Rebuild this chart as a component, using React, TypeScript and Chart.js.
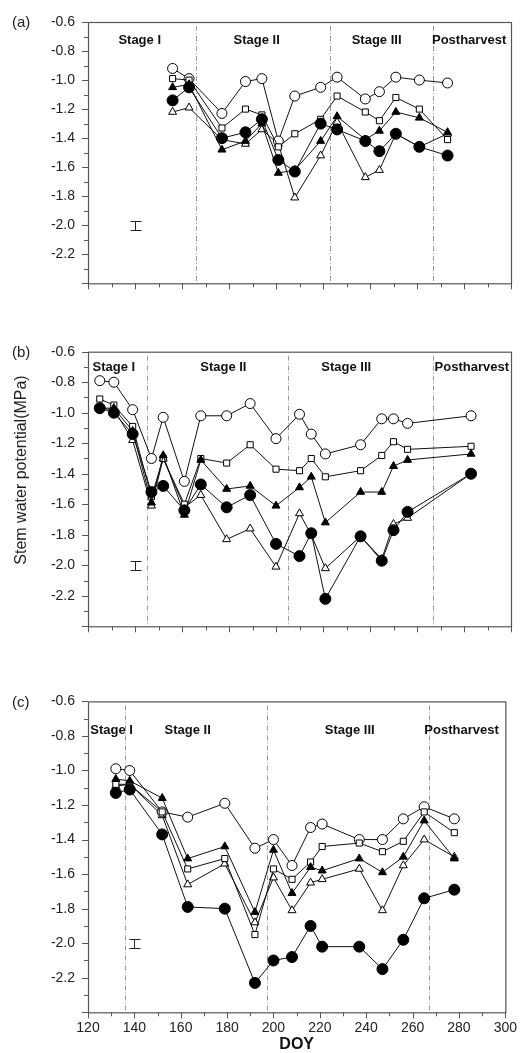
import React, { useEffect, useRef } from "react";
import { Chart, registerables } from "chart.js";

Chart.register(...registerables);

// ---------- Data ----------
// Panel (a)
const DOY_A = [156, 163, 177, 187, 194, 201, 208, 219, 226, 238, 244, 251, 261, 273];
const OPEN_CIRCLE_A = [-0.92, -0.99, -1.23, -1.01, -0.99, -1.42, -1.11, -1.05, -0.98, -1.13, -1.08, -0.98, -1.0, -1.02];
const OPEN_SQUARE_A = [-0.99, -1.0, -1.33, -1.2, -1.24, -1.46, -1.37, -1.27, -1.11, -1.22, -1.28, -1.12, -1.2, -1.41];
const FILLED_TRI_A = [-1.05, -1.03, -1.48, -1.42, -1.3, -1.64, -1.62, -1.42, -1.25, -1.41, -1.35, -1.22, -1.26, -1.36];
const OPEN_TRI_A = [-1.22, -1.19, -1.41, -1.44, -1.34, -1.44, -1.81, -1.52, -1.29, -1.67, -1.62, -1.37, -1.46, -1.37];
const FILLED_CIRCLE_A = [-1.14, -1.05, -1.4, -1.36, -1.27, -1.55, -1.63, -1.3, -1.34, -1.42, -1.49, -1.37, -1.46, -1.52];

// Panel (b)
const DOY_B = [125, 131, 139, 147, 152, 161, 168, 179, 189, 200, 210, 215, 221, 236, 245, 250, 256, 283];
const OPEN_CIRCLE_B = [-0.79, -0.8, -0.98, -1.3, -1.03, -1.45, -1.02, -1.02, -0.94, -1.17, -1.01, -1.14, -1.27, -1.21, -1.04, -1.04, -1.07, -1.02];
const OPEN_SQUARE_B = [-0.91, -0.95, -1.09, -1.55, -1.3, -1.6, -1.3, -1.33, -1.21, -1.37, -1.38, -1.3, -1.42, -1.38, -1.28, -1.19, -1.24, -1.22];
const FILLED_TRI_B = [-0.97, -0.97, -1.12, -1.59, -1.28, -1.67, -1.31, -1.5, -1.48, -1.61, -1.49, -1.42, -1.72, -1.52, -1.52, -1.35, -1.31, -1.27];
const OPEN_TRI_B = [-0.97, -0.98, -1.18, -1.61, -1.3, -1.62, -1.54, -1.83, -1.76, -2.01, -1.66, -1.8, -2.02, -1.81, -1.96, -1.73, -1.69, -1.4];
const FILLED_CIRCLE_B = [-0.97, -1.0, -1.14, -1.52, -1.48, -1.64, -1.47, -1.62, -1.54, -1.86, -1.94, -1.79, -2.22, -1.81, -1.97, -1.77, -1.65, -1.4];

// Panel (c)
const DOY_C = [132, 138, 152, 163, 179, 192, 200, 208, 216, 221, 237, 247, 256, 265, 278];
const OPEN_CIRCLE_C = [-0.99, -1.0, -1.24, -1.27, -1.19, -1.45, -1.4, -1.55, -1.33, -1.31, -1.4, -1.4, -1.28, -1.21, -1.28];
const OPEN_SQUARE_C = [-1.08, -1.08, -1.24, -1.57, -1.51, -1.95, -1.57, -1.63, -1.53, -1.44, -1.42, -1.47, -1.41, -1.24, -1.36];
const FILLED_TRI_C = [-1.05, -1.06, -1.16, -1.51, -1.44, -1.82, -1.46, -1.71, -1.56, -1.58, -1.51, -1.59, -1.5, -1.29, -1.51];
const OPEN_TRI_C = [-1.09, -1.08, -1.26, -1.66, -1.54, -1.88, -1.62, -1.81, -1.65, -1.63, -1.57, -1.81, -1.55, -1.4, -1.5];
const FILLED_CIRCLE_C = [-1.13, -1.11, -1.37, -1.79, -1.8, -2.23, -2.1, -2.08, -1.9, -2.02, -2.02, -2.15, -1.98, -1.74, -1.69];

// Stage boundaries (DOY) and stage label positions
const STAGE_NAMES = ["Stage I", "Stage II", "Stage III", "Postharvest"];
const STAGE_BOUNDS_A = [166, 223, 267];
const STAGE_BOUNDS_B = [145, 205, 267];
const STAGE_BOUNDS_C = [136, 197, 267];
const STAGE_LABEL_DOY_A = [142, 191.8, 242.8, 282.2];
const STAGE_LABEL_DOY_B = [131, 177.6, 229.9, 283.3];
const STAGE_LABEL_DOY_C = [130.2, 163, 232.9, 281.1];
const STAGE_LABEL_Y = [-0.725, -0.704, -0.768];

// Error bar (LSD) shown in each panel
const ERR_DOY = [140, 140, 140];
const ERR_VALUE = [-2.0, -2.0, -2.0];
const ERR_HALF = [0.03, 0.03, 0.026];

// Axis tick labels
const X_TICK_LABELS = ["120", "140", "160", "180", "200", "220", "240", "260", "280", "300"];
const Y_TICK_LABELS = ["-0.6", "-0.8", "-1.0", "-1.2", "-1.4", "-1.6", "-1.8", "-2.0", "-2.2"];
const PANEL_LABELS = ["(a)", "(b)", "(c)"];

// ---------- Styles ----------
const FONT = '"Liberation Sans", Arial, Helvetica, sans-serif';
// order: lower = drawn on top
const SERIES_STYLES = [
  { pointStyle: "circle", radius: 5, fill: "#ffffff", order: 3 },
  { pointStyle: "rect", radius: 4.3, fill: "#ffffff", order: 2 },
  { pointStyle: "triangle", radius: 4.6, fill: "#000000", order: 1 },
  { pointStyle: "triangle", radius: 4.6, fill: "#ffffff", order: 4 },
  { pointStyle: "circle", radius: 5.5, fill: "#000000", order: 0 },
];

function buildDatasets(doy: number[], series: number[][]) {
  return series.map((vals, si) => {
    const st = SERIES_STYLES[si];
    return {
      data: doy.map((d, i) => ({ x: d, y: vals[i] })),
      showLine: true,
      order: st.order,
      borderColor: "#111",
      borderWidth: 1,
      pointStyle: st.pointStyle,
      pointRadius: st.radius,
      pointBackgroundColor: st.fill,
      pointBorderColor: "#000",
      pointBorderWidth: 1,
      tension: 0,
    };
  });
}

function decorPlugin(idx: number, bounds: number[], labelDoy: number[], yTitle: boolean) {
  return {
    id: "decor" + idx,
    beforeDatasetsDraw(chart: any) {
      const { ctx, chartArea: a, scales } = chart;
      const x = scales.x;
      const y = scales.y;
      ctx.save();
      // stage dividers
      ctx.strokeStyle = "#9a9a9a";
      ctx.lineWidth = 1;
      ctx.setLineDash([5, 2, 1, 2]);
      bounds.forEach((d) => {
        const px = Math.round(x.getPixelForValue(d)) + 0.5;
        ctx.beginPath();
        ctx.moveTo(px, a.top + 4);
        ctx.lineTo(px, a.bottom);
        ctx.stroke();
      });
      ctx.setLineDash([]);
      // error bar
      ctx.strokeStyle = "#222";
      ctx.lineWidth = 1;
      const ex = Math.round(x.getPixelForValue(ERR_DOY[idx])) + 0.5;
      const et = Math.round(y.getPixelForValue(ERR_VALUE[idx] + ERR_HALF[idx])) + 0.5;
      const eb = Math.round(y.getPixelForValue(ERR_VALUE[idx] - ERR_HALF[idx])) + 0.5;
      ctx.beginPath();
      ctx.moveTo(ex, et);
      ctx.lineTo(ex, eb);
      ctx.moveTo(ex - 5, et);
      ctx.lineTo(ex + 6, et);
      ctx.moveTo(ex - 5, eb);
      ctx.lineTo(ex + 6, eb);
      ctx.stroke();
      ctx.restore();
    },
    afterDraw(chart: any) {
      const { ctx, chartArea: a, scales } = chart;
      const x = scales.x;
      const y = scales.y;
      ctx.save();
      // frame
      ctx.strokeStyle = "#555";
      ctx.lineWidth = 1.2;
      ctx.strokeRect(a.left + 0.5, a.top + 0.5, a.right - a.left, a.bottom - a.top);
      // y ticks
      ctx.lineWidth = 1;
      ctx.beginPath();
      for (let k = 0; k <= 18; k++) {
        const v = -2.4 + k * 0.1;
        const py = Math.round(y.getPixelForValue(v)) + 0.5;
        const len = k % 2 === 0 ? 6 : 4;
        ctx.moveTo(a.left, py);
        ctx.lineTo(a.left - len, py);
      }
      // x ticks
      for (let k = 0; k <= 18; k++) {
        const v = 120 + k * 10;
        const px = Math.round(x.getPixelForValue(v)) + 0.5;
        const len = k % 2 === 0 ? 6 : 4;
        ctx.moveTo(px, a.bottom);
        ctx.lineTo(px, a.bottom + len);
      }
      ctx.stroke();
      // stage labels
      ctx.fillStyle = "#111";
      ctx.font = "bold 13px " + FONT;
      ctx.textAlign = "center";
      ctx.textBaseline = "middle";
      STAGE_NAMES.forEach((name, i) => {
        ctx.fillText(name, x.getPixelForValue(labelDoy[i]), y.getPixelForValue(STAGE_LABEL_Y[idx]));
      });
      // panel label
      ctx.font = "15px " + FONT;
      ctx.textAlign = "left";
      ctx.fillStyle = "#222";
      ctx.fillText(PANEL_LABELS[idx], 12, a.top + 1);
      // y title
      if (yTitle) {
        ctx.save();
        ctx.translate(22, 140);
        ctx.rotate(-Math.PI / 2);
        ctx.textAlign = "center";
        ctx.font = "16px " + FONT;
        ctx.fillStyle = "#222";
        ctx.fillText("Stem water potential(MPa)", 0, 0);
        ctx.restore();
      }
      ctx.restore();
    },
  };
}

function makeConfig(
  idx: number,
  doy: number[],
  series: number[][],
  bounds: number[],
  labelDoy: number[],
  padTop: number,
  padBottom: number,
  showX: boolean,
  yTitle: boolean
): any {
  return {
    type: "scatter",
    data: { datasets: buildDatasets(doy, series) },
    options: {
      responsive: false,
      animation: false,
      layout: { padding: { top: padTop, bottom: padBottom, left: 0, right: 13 } },
      plugins: { legend: { display: false }, tooltip: { enabled: false } },
      scales: {
        x: {
          type: "linear",
          min: 120,
          max: 300,
          display: showX,
          grid: { display: false, drawTicks: false },
          border: { display: false },
          ticks: {
            stepSize: 20,
            padding: 7,
            color: "#222",
            font: { size: 14, family: FONT },
            callback: (v: number) => X_TICK_LABELS[Math.round((v - 120) / 20)] ?? "",
          },
          title: {
            display: true,
            text: "DOY",
            color: "#111",
            padding: 0,
            font: { size: 16, weight: "bold", family: FONT, lineHeight: 1 },
          },
          afterFit: (s: any) => {
            s.height = 40.7;
          },
        },
        y: {
          type: "linear",
          min: -2.4,
          max: -0.6,
          grid: { display: false, drawTicks: false },
          border: { display: false },
          ticks: {
            stepSize: 0.2,
            padding: 13,
            color: "#222",
            font: { size: 14, family: FONT },
            callback: (v: number) => {
              const k = Math.round((-0.6 - v) / 0.2);
              return k >= 0 && k < Y_TICK_LABELS.length ? Y_TICK_LABELS[k] : "";
            },
          },
          afterFit: (s: any) => {
            s.width = 88;
          },
        },
      },
    },
    plugins: [decorPlugin(idx, bounds, labelDoy, yTitle)],
  };
}

export default function App() {
  const refA = useRef<HTMLCanvasElement>(null);
  const refB = useRef<HTMLCanvasElement>(null);
  const refC = useRef<HTMLCanvasElement>(null);

  useEffect(() => {
    const charts: Chart[] = [];
    charts.push(
      new Chart(
        refA.current as HTMLCanvasElement,
        makeConfig(0, DOY_A, [OPEN_CIRCLE_A, OPEN_SQUARE_A, FILLED_TRI_A, OPEN_TRI_A, FILLED_CIRCLE_A], STAGE_BOUNDS_A, STAGE_LABEL_DOY_A, 22, 16, false, false)
      )
    );
    charts.push(
      new Chart(
        refB.current as HTMLCanvasElement,
        makeConfig(1, DOY_B, [OPEN_CIRCLE_B, OPEN_SQUARE_B, FILLED_TRI_B, OPEN_TRI_B, FILLED_CIRCLE_B], STAGE_BOUNDS_B, STAGE_LABEL_DOY_B, 21.7, 13, false, true)
      )
    );
    charts.push(
      new Chart(
        refC.current as HTMLCanvasElement,
        makeConfig(2, DOY_C, [OPEN_CIRCLE_C, OPEN_SQUARE_C, FILLED_TRI_C, OPEN_TRI_C, FILLED_CIRCLE_C], STAGE_BOUNDS_C, STAGE_LABEL_DOY_C, 17.3, 0, true, false)
      )
    );
    return () => charts.forEach((c) => c.destroy());
  }, []);

  const cs: React.CSSProperties = { position: "absolute", left: 0, display: "block" };
  return (
    <div style={{ position: "absolute", left: 0, top: 0, width: 524, height: 1053, background: "#fff", overflow: "hidden" }}>
      <canvas ref={refA} width={524} height={340} style={{ ...cs, top: 0, width: 524, height: 340 }} />
      <canvas ref={refB} width={524} height={350} style={{ ...cs, top: 330, width: 524, height: 350 }} />
      <canvas ref={refC} width={524} height={373} style={{ ...cs, top: 680, width: 524, height: 373 }} />
    </div>
  );
}
